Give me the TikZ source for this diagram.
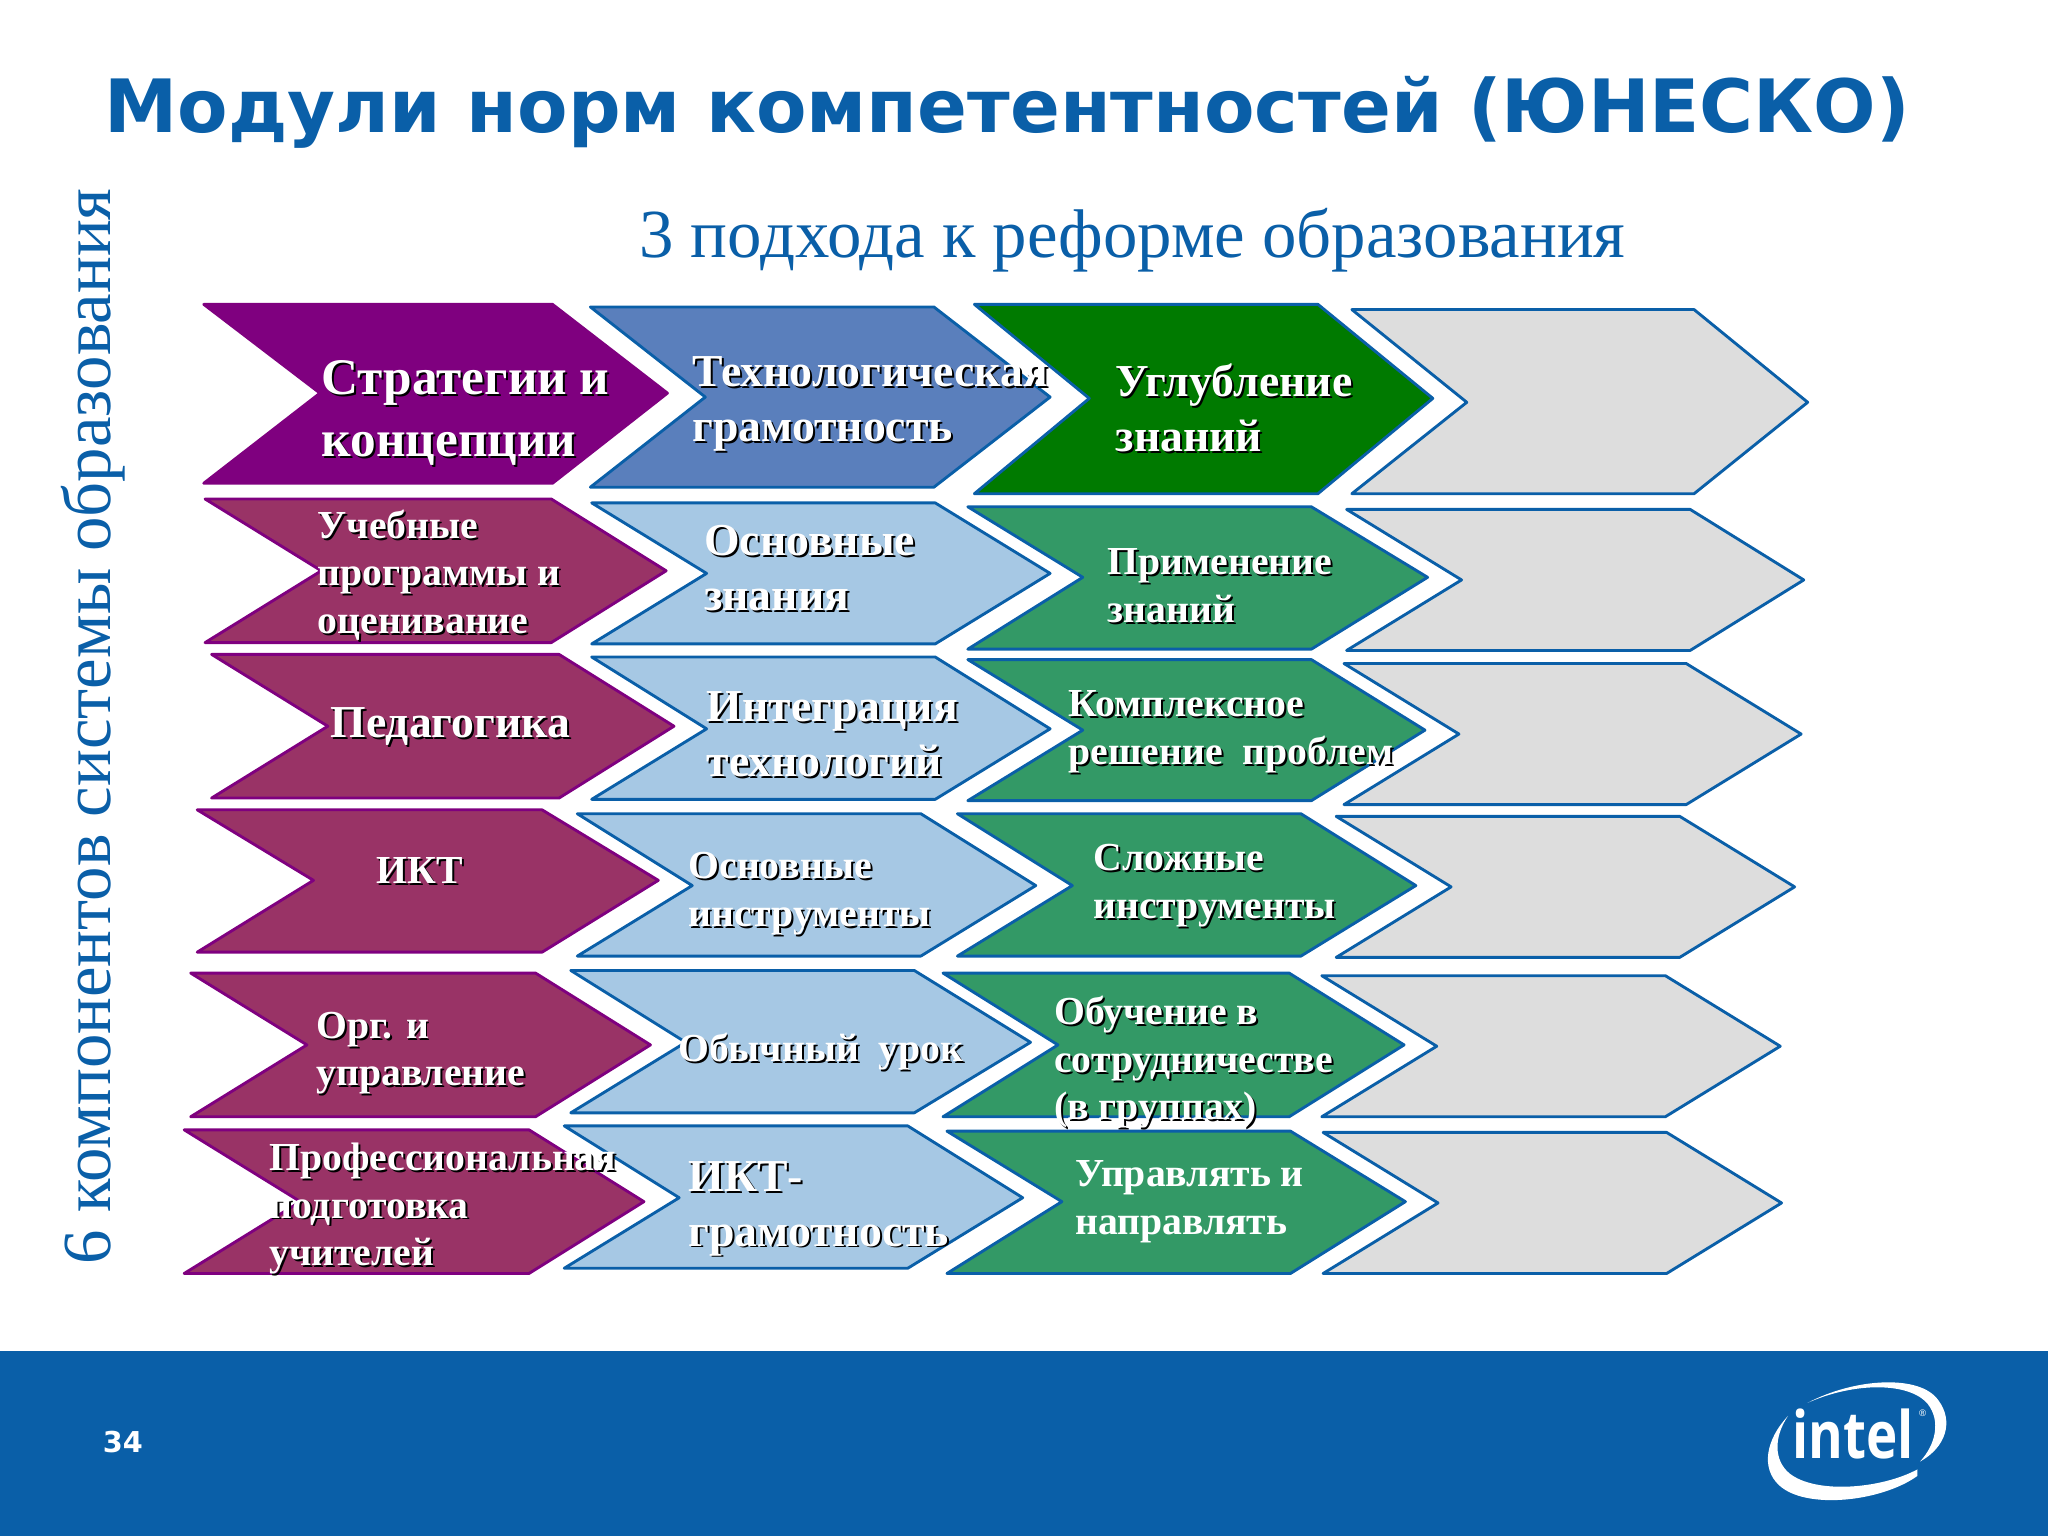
\documentclass[tikz,border=0pt]{standalone}
\usepackage{fontspec}
\setmainfont{Liberation Serif}
\newfontfamily\headfont{DejaVu Sans}
\newfontfamily\logofont{Open Sans}
\definecolor{slideblue}{HTML}{0A5FA8}
\definecolor{deeppurple}{HTML}{7F007F}
\definecolor{plum}{HTML}{993366}
\definecolor{midblue}{HTML}{5A7FBC}
\definecolor{paleblue}{HTML}{A6C8E4}
\definecolor{deepgreen}{HTML}{007A00}
\definecolor{seagreen}{HTML}{339966}
\definecolor{palegrey}{HTML}{DDDDDD}
\newcommand{\shtxt}[1]{\leavevmode\rlap{\hspace{1.5pt}\raisebox{-1.5pt}{\textcolor{black}{#1}}}#1}
\begin{document}
\begin{tikzpicture}[x=1pt,y=-1pt,
    purple line/.style={draw=deeppurple,line width=2.2pt,line join=round},
    blue line/.style={draw=slideblue,line width=2.2pt,line join=round},
    big label/.style={anchor=west,align=left,inner sep=0pt,text=white,font=\bfseries\fontsize{35}{42}\selectfont},
    small label/.style={anchor=west,align=left,inner sep=0pt,text=white,font=\bfseries\fontsize{30.4}{36.5}\selectfont}]
  \useasboundingbox (0,0) rectangle (1568,1176);
  \fill[slideblue] (0,1034) rectangle (1568,1176); %footer band
  \node[anchor=west,inner sep=0pt,text=slideblue,font=\headfont\bfseries\fontsize{56.3}{66}\selectfont] (title) at (80,86) {Модули норм компетентностей (ЮНЕСКО)};
  \node[inner sep=0pt,text=slideblue,font=\fontsize{52.7}{60}\selectfont] (approaches) at (867,184) {3 подхода к реформе образования};
  \node[rotate=90,inner sep=0pt,text=slideblue,font=\fontsize{52.7}{60}\selectfont] (components) at (71,556) {6 компонентов системы образования};
  % first column
  \draw[purple line,fill=deeppurple] (156,233) -- (423,233) -- (511,301) -- (423,370) -- (156,370) -- (245,301) -- cycle;%top row
  \draw[purple line,fill=plum] (157,382) -- (422,382) -- (510,437) -- (422,492) -- (157,492) -- (246,437) -- cycle;
  \draw[purple line,fill=plum] (162,501) -- (428,501) -- (516,556) -- (428,611) -- (162,611) -- (251,556) -- cycle;
  \draw[purple line,fill=plum] (151,620) -- (415,620) -- (504,674) -- (415,729) -- (151,729) -- (240,674) -- cycle;
  \draw[purple line,fill=plum] (146,745) -- (410,745) -- (498,800) -- (410,855) -- (146,855) -- (235,800) -- cycle;
  \draw[purple line,fill=plum] (141,865) -- (405,865) -- (493,920) -- (405,975) -- (141,975) -- (230,920) -- cycle;
  % second column
  \draw[blue line,fill=midblue] (452,235) -- (715,235) -- (804,304) -- (715,373) -- (452,373) -- (540,304) -- cycle;%top row
  \draw[blue line,fill=paleblue] (453,385) -- (716,385) -- (804,439) -- (716,493) -- (453,493) -- (541,439) -- cycle;
  \draw[blue line,fill=paleblue] (453,503) -- (716,503) -- (804,558) -- (716,612) -- (453,612) -- (541,558) -- cycle;
  \draw[blue line,fill=paleblue] (442,623) -- (705,623) -- (793,678) -- (705,732) -- (442,732) -- (530,678) -- cycle;
  \draw[blue line,fill=paleblue] (437,743) -- (700,743) -- (789,798) -- (700,852) -- (437,852) -- (525,798) -- cycle;
  \draw[blue line,fill=paleblue] (432,862) -- (695,862) -- (783,917) -- (695,971) -- (432,971) -- (520,917) -- cycle;
  % third column
  \draw[blue line,fill=deepgreen] (746,233) -- (1009,233) -- (1097,305) -- (1009,378) -- (746,378) -- (834,305) -- cycle;%top row
  \draw[blue line,fill=seagreen] (741,388) -- (1004,388) -- (1093,442) -- (1004,497) -- (741,497) -- (829,442) -- cycle;
  \draw[blue line,fill=seagreen] (741,505) -- (1004,505) -- (1091,559) -- (1004,613) -- (741,613) -- (829,559) -- cycle;
  \draw[blue line,fill=seagreen] (733,623) -- (996,623) -- (1084,678) -- (996,732) -- (733,732) -- (821,678) -- cycle;
  \draw[blue line,fill=seagreen] (722,745) -- (987,745) -- (1075,800) -- (987,855) -- (722,855) -- (810,800) -- cycle;
  \draw[blue line,fill=seagreen] (725,866) -- (988,866) -- (1076,920) -- (988,975) -- (725,975) -- (813,920) -- cycle;
  % fourth column, empty
  \draw[blue line,fill=palegrey] (1035,237) -- (1297,237) -- (1384,308) -- (1297,378) -- (1035,378) -- (1123,308) -- cycle;
  \draw[blue line,fill=palegrey] (1031,390) -- (1294,390) -- (1381,444) -- (1294,498) -- (1031,498) -- (1119,444) -- cycle;
  \draw[blue line,fill=palegrey] (1029,508) -- (1291,508) -- (1379,562) -- (1291,616) -- (1029,616) -- (1117,562) -- cycle;
  \draw[blue line,fill=palegrey] (1023,625) -- (1286,625) -- (1374,679) -- (1286,733) -- (1023,733) -- (1111,679) -- cycle;
  \draw[blue line,fill=palegrey] (1012,747) -- (1275,747) -- (1363,801) -- (1275,855) -- (1012,855) -- (1100,801) -- cycle;
  \draw[blue line,fill=palegrey] (1013,867) -- (1276,867) -- (1364,921) -- (1276,975) -- (1013,975) -- (1101,921) -- cycle;
  % labels, first column
  \node[big label,font=\bfseries\fontsize{39.3}{48}\selectfont] (strategy) at (246,317) {\shtxt{Стратегии и}\\\shtxt{концепции}};
  \node[small label] (curriculum) at (243,441) {\shtxt{Учебные}\\\shtxt{программы и}\\\shtxt{оценивание}};
  \node[big label] (pedagogy) at (253,557) {\shtxt{Педагогика}};
  \node[small label] (ict) at (288,667) {\shtxt{ИКТ}};
  \node[small label] (organisation) at (242,807) {\shtxt{Орг. и}\\\shtxt{управление}};
  \node[small label] (training) at (206,926) {\shtxt{Профессиональная}\\\shtxt{подготовка}\\\shtxt{учителей}};
  % labels, second column
  \node[big label] (literacy) at (530,310) {\shtxt{Технологическая}\\\shtxt{грамотность}};
  \node[big label] (basic) at (539,436) {\shtxt{Основные}\\\shtxt{знания}};
  \node[big label] (integration) at (541,563) {\shtxt{Интеграция}\\\shtxt{технологий}};
  \node[small label] (basictools) at (527,685) {\shtxt{Основные}\\\shtxt{инструменты}};
  \node[small label] (lesson) at (519,806) {\shtxt{Обычный\ \ урок}};
  \node[big label] (ictliteracy) at (527,926) {\shtxt{ИКТ-}\\\shtxt{грамотность}};
  % labels, third column
  \node[big label] (deepening) at (854,313) {\shtxt{Углубление}\\\shtxt{знаний}};
  \node[small label] (applying) at (848,449) {\shtxt{Применение}\\\shtxt{знаний}};
  \node[small label] (solving) at (818,561) {\shtxt{Комплексное}\\\shtxt{решение\ \ проблем}};
  \node[small label] (complextools) at (837,679) {\shtxt{Сложные}\\\shtxt{инструменты}};
  \node[small label] (groups) at (807,814) {\shtxt{Обучение в}\\\shtxt{сотрудничестве}\\\shtxt{(в группах)}};
  \node[small label] (guiding) at (823,920) {Управлять и\\направлять};
  % footer
  \node[inner sep=0pt,text=white,font=\headfont\bfseries\fontsize{22}{26}\selectfont] (pagenum) at (94,1104) {34};
  \node[inner sep=0pt,xscale=0.81,text=white,font=\logofont\bfseries\fontsize{50}{60}\selectfont] (intel) at (1419,1098) {intel};
  \node[inner sep=0pt,text=white,font=\logofont\fontsize{7}{8}\selectfont] (registered) at (1472,1082) {®};
  \fill[white] (1384,1074) .. controls (1420,1055) and (1470,1052) .. (1484,1072) .. controls (1496,1088) and (1490,1108) .. (1470,1119) .. controls (1482,1106) and (1486,1088) .. (1476,1075) .. controls (1462,1058) and (1420,1058) .. cycle;%upper swoosh
  \fill[white] (1369,1084) .. controls (1352,1102) and (1348,1124) .. (1362,1137) .. controls (1382,1156) and (1440,1150) .. (1468,1130) -- (1468,1125) .. controls (1440,1140) and (1390,1144) .. (1370,1128) .. controls (1358,1118) and (1358,1100) .. cycle;%lower swoosh
\end{tikzpicture}
\end{document}
